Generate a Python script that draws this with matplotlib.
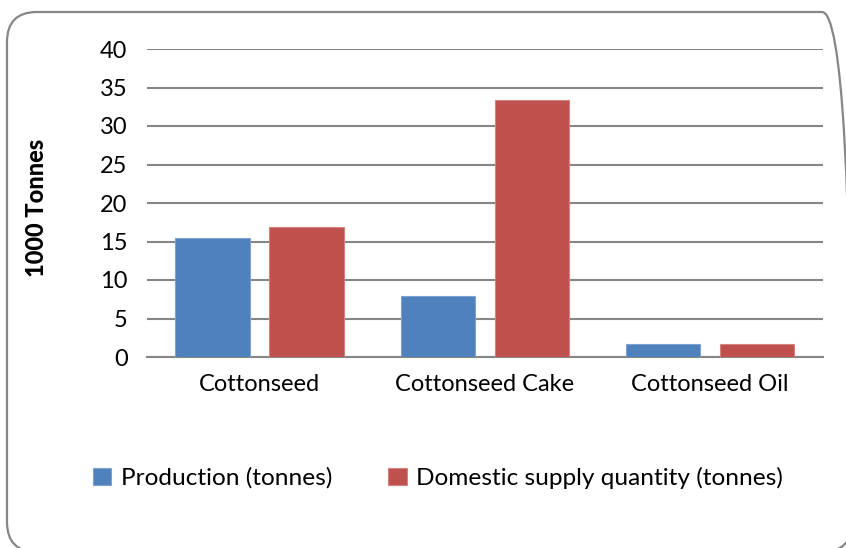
import matplotlib
matplotlib.use("Agg")
import matplotlib.pyplot as plt
from matplotlib.patches import FancyBboxPatch
import numpy as np

categories = ["Cottonseed", "Cottonseed Cake", "Cottonseed Oil"]
production = [15.5, 7.9, 1.7]
domestic_supply = [16.85, 33.35, 1.7]
series_labels = ["Production (tonnes)", "Domestic supply quantity (tonnes)"]
y_ticks = [0, 5, 10, 15, 20, 25, 30, 35, 40]

plt.rcParams["font.family"] = ["Lato", "DejaVu Sans"]
FS = 17

fig = plt.figure(figsize=(8.46, 5.48), dpi=100)
W, H = 846, 548

# background axes in pixel units for the rounded chart frame
bg = fig.add_axes([0, 0, 1, 1], zorder=-1)
bg.set_xlim(0, W)
bg.set_ylim(0, H)
bg.axis("off")
bg.add_patch(FancyBboxPatch(
    (7, H - 552), 852 - 7, 552 - 12,
    boxstyle="round,pad=0,rounding_size=30",
    facecolor="none", edgecolor="#868686", linewidth=1.6, clip_on=True,
))
bg.set_xlim(0, W)
bg.set_ylim(0, H)

ax = fig.add_axes([147 / W, 1 - 357 / H, (822.7 - 147) / W, (357 - 49) / H])
ax.set_facecolor("none")

x = np.arange(len(categories))
width = 0.331
offset = 0.209

ax.bar(x - offset, production, width, color="#4F81BD",
       edgecolor="#7FA3D0", linewidth=0.8, label=series_labels[0], zorder=3)
ax.bar(x + offset, domestic_supply, width, color="#C0504D",
       edgecolor="#D4837F", linewidth=0.8, label=series_labels[1], zorder=3)

ax.set_xlim(-0.5, len(categories) - 0.5)
ax.set_ylim(0, 40)
ax.set_yticks(y_ticks)
ax.set_xticks(x)
ax.set_xticklabels(categories, fontsize=FS)
ax.tick_params(axis="y", labelsize=FS, length=0, pad=14)
ax.tick_params(axis="x", length=0, pad=12)

ax.yaxis.grid(True, color="#868686", linewidth=1.5, zorder=0)
ax.set_axisbelow(True)
for s in ["top", "right", "left"]:
    ax.spines[s].set_visible(False)
ax.spines["bottom"].set_color("#868686")
ax.spines["bottom"].set_linewidth(1.5)

fig.text(37 / W, 1 - 208 / H, "1000 Tonnes", rotation=90, fontsize=17,
         fontweight="black", ha="center", va="center")

handles, labels = ax.get_legend_handles_labels()
fig.legend(handles, labels, loc="center", bbox_to_anchor=(438 / W, 1 - 478 / H),
           ncol=2, frameon=False, fontsize=17.6, handlelength=0.75,
           handleheight=0.75, handletextpad=0.4, columnspacing=2.3)

fig.savefig("out.png", dpi=100)
